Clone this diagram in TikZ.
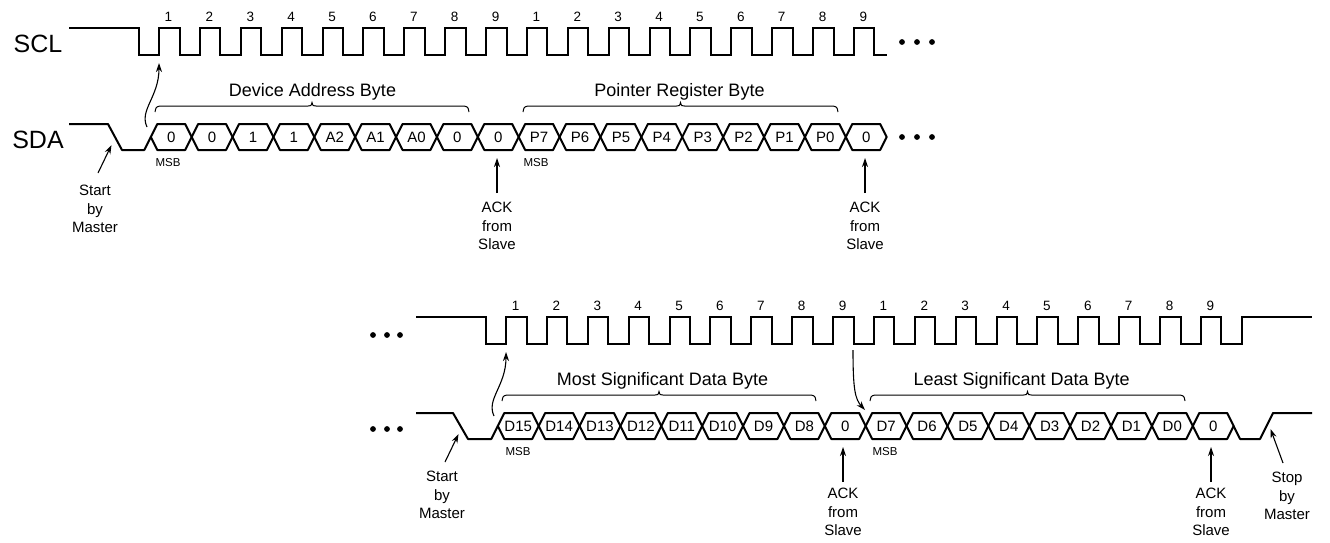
\documentclass[tikz,border=0pt]{standalone}
\usepackage{fontspec}
\setmainfont{Liberation Sans}
\usetikzlibrary{arrows.meta}
\newcommand\fsz[1]{\fontsize{#1}{#1}\selectfont}
\newcommand\bytebrace[3]{%
  \draw[brc] (#1,#3+6) .. controls (#1+1,#3+1) .. (#1+5,#3) -- ({(#1+#2)/2-4},#3)
    .. controls ({(#1+#2)/2-1},#3) .. ({(#1+#2)/2},#3-3.5)
    .. controls ({(#1+#2)/2+1},#3) .. ({(#1+#2)/2+4},#3) -- (#2-5,#3)
    .. controls (#2-1,#3+1) .. (#2,#3+6);}
\newcommand\threeline[6]{%
  \node[note] (#1a) at (#2,#3) {#4};
  \node[note] (#1b) at (#2,#3+18.7) {#5};
  \node[note] (#1c) at (#2,#3+37.4) {#6};}
\begin{document}
\begin{tikzpicture}[x=1pt,y=-1pt,
  sclw/.style={line width=2pt,line join=miter},
  hexw/.style={line width=2pt,line join=round},
  brc/.style={line width=1pt},
  arr/.style={line width=1.1pt,-{Stealth[length=9pt,width=6pt]}},
  sig/.style={font=\fsz{25},anchor=base,inner sep=0pt},
  num/.style={font=\fsz{13.5},anchor=base,inner sep=0pt},
  bit/.style={font=\fsz{15},inner sep=0pt},
  msb/.style={font=\fsz{11.5},anchor=base,inner sep=0pt},
  byte/.style={font=\fsz{18},anchor=base,inner sep=0pt},
  note/.style={font=\fsz{15},anchor=base,inner sep=0pt},
  dot/.style={fill=black}]
\useasboundingbox (0,0) rectangle (1330,542);

% ================= TOP ROW =================
\node[sig] (sclT) at (38,52.5) {SCL};
\node[sig] (sdaT) at (38,148) {SDA};
\foreach \k in {0,...,17}{
  \pgfmathtruncatemacro\n{mod(\k,9)+1}
  \node[num] (nT\k) at ({168.5+40.88*\k},21) {\n};
}
\draw[sclw] (69,28) -- (138.6,28) -- (138.6,55)
  \foreach \k in {0,...,17}{ -- ({159+40.88*\k},55) -- ({159+40.88*\k},28)
     -- ({179.5+40.88*\k},28) -- ({179.5+40.88*\k},55) } -- (887,55);
\draw[hexw] (69,124) -- (108,124) -- (122,150) -- (144.3,150) -- (150.8,137);
\foreach \t [count=\i from 0] in {0,0,1,1,A2,A1,A0,0,0,P7,P6,P5,P4,P3,P2,P1,P0,0}{
  \pgfmathsetmacro\ca{150.8+40.88*\i}
  \pgfmathsetmacro\cb{\ca+40.88}
  \draw[hexw] (\ca,137) -- (\ca+6.5,124) -- (\cb-6.5,124) -- (\cb,137)
     -- (\cb-6.5,150) -- (\ca+6.5,150) -- cycle;
  \node[bit] (bT\i) at ({(\ca+\cb)/2},137) {\t};
}
\foreach \x [count=\i] in {902,917,932}{
  \fill[dot] (\x,42) circle (2.9);
  \fill[dot] (\x,137) circle (2.9);
}
\bytebrace{155}{469}{106}
\bytebrace{523}{838}{106}
\node[byte] (devT) at (312.5,96.5) {Device Address Byte};
\node[byte] (ptrT) at (679.5,96.5) {Pointer Register Byte};
\node[msb] (msbT1) at (168,166.5) {MSB};
\node[msb] (msbT2) at (536,166.5) {MSB};
\coordinate (cuT0) at (147,127);
\coordinate (cuT1) at (159,63);
\draw[arr] (cuT0) .. controls (139,110) and (159,97) .. (cuT1);
\threeline{stT}{95}{195.4}{Start}{by}{Master}
\coordinate (stT0) at (98,173);
\coordinate (stT1) at (111.5,145);
\draw[arr] (stT0) -- (stT1);
\threeline{akT}{497}{212.4}{ACK}{from}{Slave}
\threeline{bkT}{865}{212.4}{ACK}{from}{Slave}
\coordinate (akT0) at (497,193); \coordinate (akT1) at (497,158);
\coordinate (bkT0) at (865,193); \coordinate (bkT1) at (865,158);
\draw[arr] (akT0) -- (akT1);
\draw[arr] (bkT0) -- (bkT1);

% ================= BOTTOM ROW =================
\begin{scope}[shift={(347,289)}]
\foreach \x in {26,40,53}{
  \fill[dot] (\x,46) circle (2.9);
  \fill[dot] (\x,140) circle (2.9);
}
\foreach \k in {0,...,17}{
  \pgfmathtruncatemacro\n{mod(\k,9)+1}
  \node[num] (nB\k) at ({168.5+40.88*\k},21) {\n};
}
\draw[sclw] (69,28) -- (138.6,28) -- (138.6,55)
  \foreach \k in {0,...,17}{ -- ({159+40.88*\k},55) -- ({159+40.88*\k},28)
     -- ({179.5+40.88*\k},28) -- ({179.5+40.88*\k},55) }
  -- (894.8,55) -- (894.8,28) -- (965,28);
\draw[hexw] (69,124) -- (106,124) -- (121,150) -- (144.3,150) -- (150.8,137);
\foreach \t [count=\i from 0] in {D15,D14,D13,D12,D11,D10,D9,D8,0,D7,D6,D5,D4,D3,D2,D1,D0,0}{
  \pgfmathsetmacro\ca{150.8+40.88*\i}
  \pgfmathsetmacro\cb{\ca+40.88}
  \draw[hexw] (\ca,137) -- (\ca+6.5,124) -- (\cb-6.5,124) -- (\cb,137)
     -- (\cb-6.5,150) -- (\ca+6.5,150) -- cycle;
  \node[bit] (bB\i) at ({(\ca+\cb)/2},137) {\t};
}
\draw[hexw] (886.6,137) -- (893.1,150) -- (913,150) -- (926,124) -- (965,124);
\bytebrace{155}{469}{106}
\bytebrace{523}{838}{106}
\node[byte] (msdB) at (315.5,96) {Most Significant Data Byte};
\node[byte] (lsdB) at (674.7,96) {Least Significant Data Byte};
\node[msb] (msbB1) at (171,166) {MSB};
\node[msb] (msbB2) at (538,166) {MSB};
\coordinate (cuB0) at (147,127);
\coordinate (cuB1) at (159,63);
\draw[arr] (cuB0) .. controls (139,110) and (159,97) .. (cuB1);
\coordinate (c9B0) at (506,61);
\coordinate (c9B1) at (518,121);
\draw[arr] (c9B0) .. controls (506,100) and (508,110) .. (c9B1);
\threeline{stB}{95}{192.4}{Start}{by}{Master}
\coordinate (stB0) at (98,173);
\coordinate (stB1) at (111.5,145);
\draw[arr] (stB0) -- (stB1);
\threeline{akB}{496}{209.4}{ACK}{from}{Slave}
\threeline{bkB}{864}{209.4}{ACK}{from}{Slave}
\coordinate (akB0) at (496,193); \coordinate (akB1) at (496,158);
\coordinate (bkB0) at (864,193); \coordinate (bkB1) at (864,158);
\draw[arr] (akB0) -- (akB1);
\draw[arr] (bkB0) -- (bkB1);
\threeline{spB}{940}{193.4}{Stop}{by}{Master}
\coordinate (spB0) at (936,174);
\coordinate (spB1) at (923.5,140);
\draw[arr] (spB0) -- (spB1);
\end{scope}
\end{tikzpicture}
\end{document}
